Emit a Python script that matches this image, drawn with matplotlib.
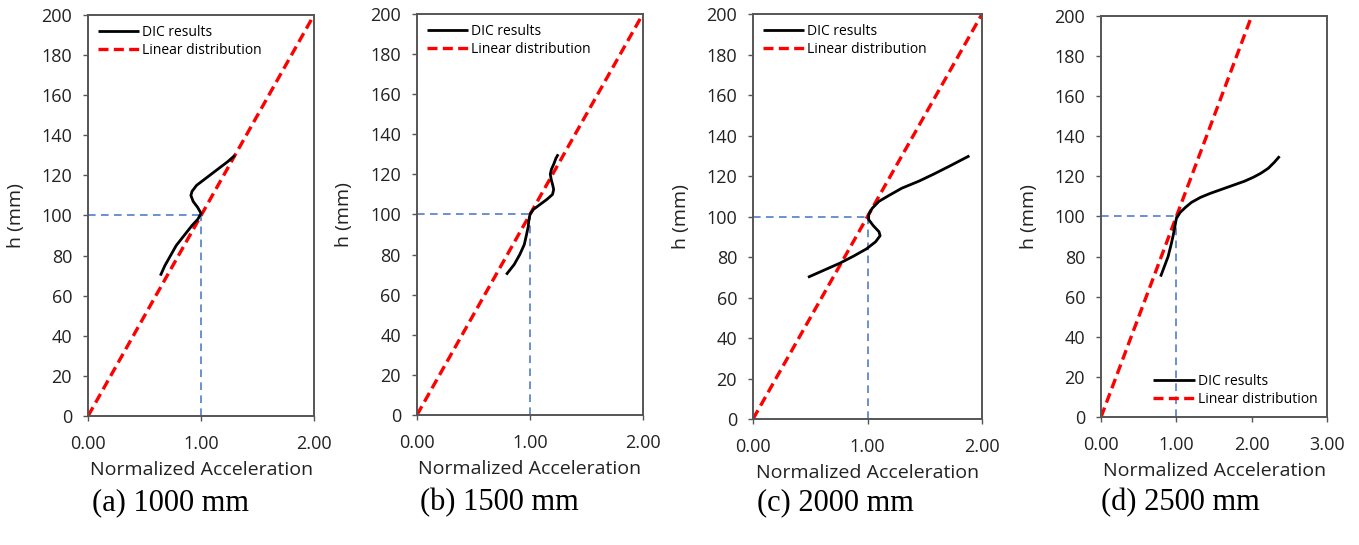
import numpy as np
import matplotlib.pyplot as plt

plt.rcParams['font.family'] = ['Open Sans', 'DejaVu Sans']

# DIC results: (normalized acceleration, h in mm)
acc_a = [0.64, 0.68, 0.73, 0.78, 0.85, 0.92, 0.97, 1.00, 0.97, 0.93, 0.91, 0.92, 0.96, 1.03, 1.10, 1.17, 1.24, 1.30]
h_a = [70, 75, 80, 85, 90, 95, 98, 101, 104, 107, 110, 112, 115, 118, 121, 124, 127, 130]

acc_b = [0.79, 0.86, 0.91, 0.95, 0.97, 0.985, 0.99, 1.00, 1.03, 1.09, 1.15, 1.20, 1.21, 1.20, 1.19, 1.18, 1.19, 1.21, 1.23, 1.25]
h_b = [70, 75, 80, 85, 90, 94, 97, 100, 102.5, 105, 107.5, 110, 112.5, 115, 117, 120, 122.5, 125, 128, 130]

acc_c = [0.48, 0.62, 0.76, 0.88, 0.99, 1.07, 1.11, 1.10, 1.05, 1.01, 1.01, 1.04, 1.10, 1.19, 1.30, 1.45, 1.58, 1.72, 1.89]
h_c = [70, 73.5, 77, 80.5, 84, 87.5, 90.5, 92.5, 95.5, 98.5, 101, 104, 107.5, 110.5, 114, 117.5, 121, 125, 130]

acc_d = [0.79, 0.84, 0.89, 0.93, 0.96, 0.98, 1.00, 1.05, 1.12, 1.20, 1.32, 1.45, 1.60, 1.75, 1.90, 2.02, 2.12, 2.22, 2.30, 2.37]
h_d = [70, 75, 80, 86, 91, 95, 99, 102, 104.5, 107, 109.5, 111.5, 113.5, 115.5, 117.5, 119.5, 121.5, 124, 127, 130]

dic_x = [acc_a, acc_b, acc_c, acc_d]
dic_h = [h_a, h_b, h_c, h_d]

# linear distribution reference and the normalisation guides
lin_x = [0.0, 2.0]
lin_h = [0, 200]
ref_x, ref_h = 1.0, 100

captions = ['(a) 1000 mm', '(b) 1500 mm', '(c) 2000 mm', '(d) 2500 mm']
x_max = [2, 2, 2, 3]
legend_loc = ['upper left', 'upper left', 'upper left', 'lower right']

# axes boxes in figure fractions [left, bottom, width, height]
boxes = [
    [0.0648, 0.2367, 0.1663, 0.736],
    [0.3068, 0.2385, 0.1663, 0.736],
    [0.5541, 0.2312, 0.1685, 0.743],
    [0.8102, 0.2349, 0.1663, 0.736],
]
caption_x = [170, 499, 835, 1180]

fig = plt.figure(figsize=(13.59, 5.45), dpi=100)

for i in range(4):
    ax = fig.add_axes(boxes[i])
    ax.plot([0, ref_x], [ref_h, ref_h], color='#4472C4', lw=1.1, ls=(0, (5, 3.5)), zorder=1)
    ax.plot([ref_x, ref_x], [0, ref_h], color='#4472C4', lw=1.1, ls=(0, (5, 3.5)), zorder=1)
    ax.plot(dic_x[i], dic_h[i], color='black', lw=2.0, label='DIC results', zorder=3,
            solid_capstyle='butt')
    ax.plot(lin_x, lin_h, color='#FF0000', lw=2.4, ls=(0, (3, 1.6)), label='Linear distribution',
            zorder=2)

    ax.set_xlim(0, x_max[i])
    ax.set_ylim(0, 200)
    ax.set_xticks(np.arange(0, x_max[i] + 1, 1))
    ax.set_xticklabels(['%.2f' % v for v in np.arange(0, x_max[i] + 1, 1)])
    ax.set_yticks(np.arange(0, 201, 20))

    for sp in ax.spines.values():
        sp.set_color('#555555')
        sp.set_linewidth(1.4)
    ax.tick_params(direction='out', length=3.5, width=1.0, color='#555555',
                   labelsize=13, labelcolor='#222222')
    ax.tick_params(axis='x', pad=10)
    ax.tick_params(axis='y', pad=8)

    ax.set_xlabel('Normalized Acceleration', fontsize=14, color='#222222', labelpad=6)
    ax.set_ylabel('h (mm)', fontsize=14, color='#222222', labelpad=12)

    ax.legend(loc=legend_loc[i], frameon=False, fontsize=10, handlelength=3.0,
              handletextpad=0.2, borderaxespad=0.3, labelspacing=0.25)

    fig.text(caption_x[i] / 1359, 1 - 503 / 545, captions[i], ha='center', va='center',
             fontsize=22, family='Liberation Serif')

fig.savefig('out.png', dpi=100)
